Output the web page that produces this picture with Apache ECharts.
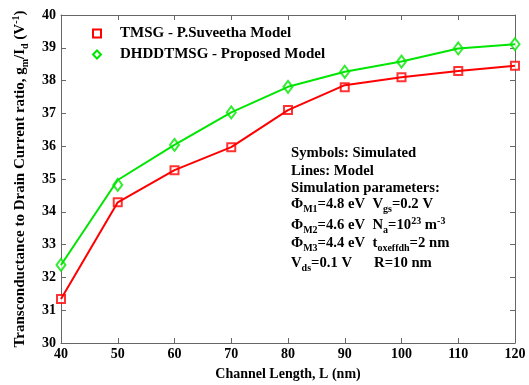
<!DOCTYPE html>
<html>
<head>
<meta charset="utf-8">
<script src="https://cdn.jsdelivr.net/npm/echarts@6/dist/echarts.min.js"></script>
<style>
html, body { margin: 0; padding: 0; background: #fff; }
#chart { width: 529px; height: 385px; }
</style>
</head>
<body>
<div id="chart"></div>
<script>
// channel length (nm)
var lengths = [40, 50, 60, 70, 80, 90, 100, 110, 120];
// TMSG - P.Suveetha model: line (model) and symbols (simulated)
var tmsgModel = [31.34, 34.29, 35.27, 35.97, 37.10, 37.86, 38.10, 38.29, 38.45];
var tmsgSim   = [31.34, 34.29, 35.27, 35.97, 37.10, 37.80, 38.10, 38.29, 38.45];
// DHDDTMSG - proposed model
var dhddModel = [32.38, 34.97, 36.04, 37.03, 37.81, 38.27, 38.58, 38.98, 39.11];
var dhddSim   = [32.38, 34.82, 36.04, 37.03, 37.81, 38.27, 38.58, 38.98, 39.11];

var xTicks = [40, 50, 60, 70, 80, 90, 100, 110, 120];
var yMin = 30, yMax = 40;

var serif = '"Liberation Serif", "Times New Roman", serif';
var RED = '#ff0000';
var GREEN = '#00e600';

function pairs(xs, ys) {
    return xs.map(function (x, i) { return [x, ys[i]]; });
}

var sub = { fontSize: 10, fontWeight: 'bold', fontFamily: serif, verticalAlign: 'bottom', padding: [9, 0, 0, 0] };
var sup = { fontSize: 10, fontWeight: 'bold', fontFamily: serif, verticalAlign: 'top', padding: [0, 0, 7, 0] };

var noteLines = [
    'Symbols: Simulated',
    'Lines: Model',
    'Simulation parameters:',
    'Φ{s|M1}=4.8 eV  V{s|gs}=0.2 V',
    'Φ{s|M2}=4.6 eV  N{s|a}=10{p|23} m{p|-3}',
    'Φ{s|M3}=4.4 eV  t{s|oxeffdh}=2 nm',
    'V{s|ds}=0.1 V      R=10 nm'
];
var noteY = [146, 164, 181, 197, 216, 236, 256];

var myChart = echarts.init(document.getElementById('chart'));

var axisCommon = {
    axisLine: { show: true, lineStyle: { color: '#666', width: 1 } },
    axisTick: { show: true, inside: true, length: 5, lineStyle: { color: '#666' } },
    splitLine: { show: false }
};

var option = {
    animation: false,
    backgroundColor: '#fff',
    grid: { left: 61, top: 15, right: 14, bottom: 42, containLabel: false, outerBoundsMode: 'none' },
    legend: {
        left: 87, top: 21, orient: 'vertical', itemGap: 6,
        itemWidth: 8, itemHeight: 8,
        textStyle: { fontFamily: serif, fontWeight: 'bold', fontSize: 15, color: '#000', padding: [0, 0, 0, 14] },
        data: [
            { name: 'TMSG - P.Suveetha Model', icon: 'rect',
              itemStyle: { color: '#fff', borderColor: RED, borderWidth: 2 } },
            { name: 'DHDDTMSG - Proposed Model', icon: 'diamond',
              itemStyle: { color: '#fff', borderColor: GREEN, borderWidth: 2 } }
        ]
    },
    xAxis: [
        Object.assign({
            type: 'value', min: 40, max: 120, interval: 10, position: 'bottom',
            name: 'Channel Length, L (nm)', nameLocation: 'middle', nameGap: 24,
            nameTextStyle: { fontFamily: serif, fontWeight: 'bold', fontSize: 14, color: '#000' },
            axisLabel: { fontFamily: serif, fontWeight: 'bold', fontSize: 14, color: '#000', margin: 4 }
        }, axisCommon),
        Object.assign({
            type: 'value', min: 40, max: 120, interval: 10, position: 'top',
            axisLabel: { show: false }
        }, axisCommon)
    ],
    yAxis: [
        Object.assign({
            type: 'value', min: yMin, max: yMax, interval: 1, position: 'left',
            name: 'Transconductance to Drain Current ratio, g{s|m}/I{s|d} (V{p|-1})',
            nameLocation: 'middle', nameGap: 31, nameRotate: 90,
            nameTextStyle: {
                fontFamily: serif, fontWeight: 'bold', fontSize: 15, color: '#000',
                rich: { s: sub, p: sup }
            },
            axisLabel: { fontFamily: serif, fontWeight: 'bold', fontSize: 14, color: '#000', margin: 5 }
        }, axisCommon),
        Object.assign({
            type: 'value', min: yMin, max: yMax, interval: 1, position: 'right',
            axisLabel: { show: false }
        }, axisCommon)
    ],
    series: [
        {
            name: 'TMSG - P.Suveetha Model', type: 'line', xAxisIndex: 0, yAxisIndex: 0,
            data: pairs(lengths, tmsgModel), showSymbol: false, symbol: 'none',
            lineStyle: { color: RED, width: 2 }, itemStyle: { color: RED }
        },
        {
            name: 'TMSG - P.Suveetha Model', type: 'scatter', xAxisIndex: 0, yAxisIndex: 0,
            data: pairs(lengths, tmsgSim), symbol: 'rect', symbolSize: 8,
            itemStyle: { color: '#fff', borderColor: RED, borderWidth: 2 }
        },
        {
            name: 'DHDDTMSG - Proposed Model', type: 'line', xAxisIndex: 0, yAxisIndex: 0,
            data: pairs(lengths, dhddModel), showSymbol: false, symbol: 'none',
            lineStyle: { color: GREEN, width: 2 }, itemStyle: { color: GREEN }
        },
        {
            name: 'DHDDTMSG - Proposed Model', type: 'scatter', xAxisIndex: 0, yAxisIndex: 0,
            data: pairs(lengths, dhddSim), symbol: 'diamond', symbolSize: [9, 12],
            itemStyle: { color: '#fff', borderColor: GREEN, borderWidth: 2 }
        }
    ],
    graphic: noteLines.map(function (t, i) {
        return {
            type: 'text', left: 291, top: noteY[i], silent: true,
            style: {
                text: t, fill: '#000', font: 'bold 14.7px ' + serif,
                rich: { s: sub, p: sup }
            }
        };
    })
};

myChart.setOption(option);
</script>
</body>
</html>
